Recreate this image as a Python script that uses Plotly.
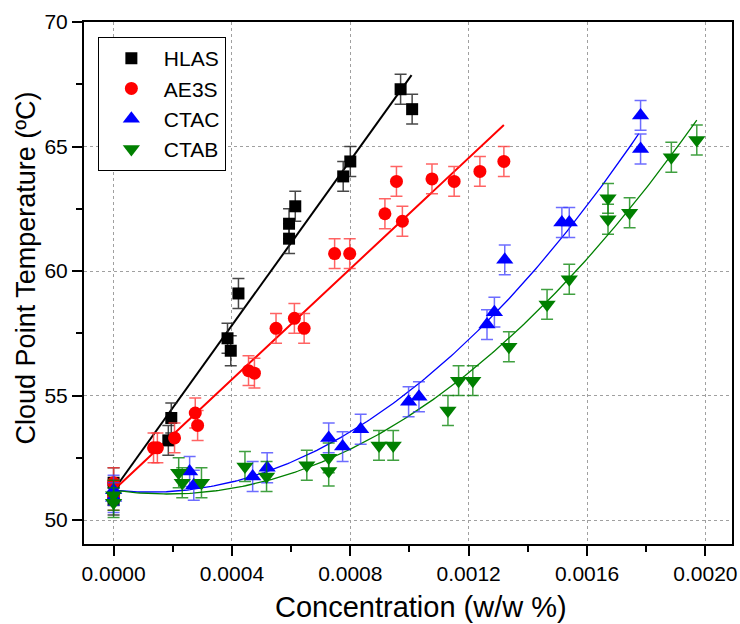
import numpy as np
import plotly.graph_objects as go

# ---- data ----
hlas_c = [0, 0, 0.000185, 0.000195, 0.000385, 0.000396, 0.000422, 0.000593, 0.000593,
          0.000614, 0.000776, 0.000800, 0.000970, 0.001009]
hlas_t = [51.5, 50.8, 53.2, 54.1, 57.3, 56.8, 59.1, 61.3, 61.9, 62.6, 63.8, 64.4, 67.3, 66.5]

ae3s_c = [0, 0, 0.000135, 0.000148, 0.000206, 0.000276, 0.000284, 0.000456, 0.000476,
          0.000549, 0.000611, 0.000644, 0.000747, 0.000798, 0.000917, 0.000956, 0.000976,
          0.001076, 0.001151, 0.001238, 0.001319]
ae3s_t = [51.5, 51.0, 52.9, 52.9, 53.3, 54.3, 53.8, 56.0, 55.9, 57.7, 58.1, 57.7, 60.7,
          60.7, 62.3, 63.6, 62.0, 63.7, 63.6, 64.0, 64.4]

ctac_c = [0, 0, 0.000257, 0.000271, 0.00047, 0.000519, 0.000727, 0.000774, 0.000835,
          0.000997, 0.001032, 0.001262, 0.001287, 0.001322, 0.001515, 0.00154, 0.001781,
          0.001781]
ctac_t = [51.2, 50.9, 51.95, 51.4, 51.75, 52.1, 53.3, 52.95, 53.65, 54.75, 54.95, 57.85,
          58.35, 60.45, 61.95, 61.95, 66.25, 64.9]

ctab_c = [0, 0, 0.00022, 0.000232, 0.000297, 0.000444, 0.000517, 0.000653, 0.000727,
          0.000727, 0.000897, 0.000945, 0.00113, 0.001166, 0.001214, 0.001336, 0.001465,
          0.00154, 0.001671, 0.001671, 0.001744, 0.001885, 0.001971]
ctab_t = [51.0, 50.7, 51.9, 51.5, 51.5, 52.15, 51.75, 52.2, 52.5, 51.97, 53.0, 53.0, 54.4,
          55.6, 55.6, 56.96, 58.66, 59.67, 62.92, 62.08, 62.34, 64.57, 65.26]

err = 0.6

# fit curves (polynomial coefficients, low order first) and their x extents
hlas_fit = [51.2, 16550]
ae3s_fit = [51.2, 11115]
ctac_fit = [51.2, -1285, 5.267e6]
ctab_fit = [51.2, -1684, 4.68e6]
hlas_fit_end = 0.001007
ae3s_fit_end = 0.001319
ctac_fit_end = 0.001775
ctab_fit_end = 0.001971

x_ticks = [0, 0.0004, 0.0008, 0.0012, 0.0016, 0.0020]

FONT = "Liberation Sans, Arial, sans-serif"

series = [
    ("HLAS", hlas_c, hlas_t, "square", 12, "black", "rgba(40,40,40,0.85)", hlas_fit, hlas_fit_end, 2),
    ("AE3S", ae3s_c, ae3s_t, "circle", 13, "red", "rgba(255,60,60,0.8)", ae3s_fit, ae3s_fit_end, 2),
    ("CTAC", ctac_c, ctac_t, "triangle-up", 15, "blue", "rgba(60,60,255,0.75)", ctac_fit, ctac_fit_end, 1.3),
    ("CTAB", ctab_c, ctab_t, "triangle-down", 15, "green", "rgba(0,128,0,0.75)", ctab_fit, ctab_fit_end, 1.3),
]

fig = go.Figure()

for name, cx, ty, sym, sz, col, ecol, coef, xend, lw in series:
    xs = np.linspace(0, xend, 200)
    ys = np.polynomial.polynomial.polyval(xs, coef)
    fig.add_trace(go.Scatter(x=xs, y=ys, mode="lines", line=dict(color=col, width=lw),
                             showlegend=False, hoverinfo="skip"))

for name, cx, ty, sym, sz, col, ecol, coef, xend, lw in series:
    fig.add_trace(go.Scatter(
        x=cx, y=ty, mode="markers", name=name,
        marker=dict(symbol=sym, size=sz, color=col, line=dict(width=0)),
        error_y=dict(type="constant", value=err, color=ecol, thickness=1.5, width=6),
    ))

axis_common = dict(
    showline=True, linecolor="black", linewidth=2, mirror=True,
    ticks="outside", ticklen=10, tickwidth=1.5, tickcolor="black",
    showgrid=True, gridcolor="#a0a0a0", griddash="3px,3px", gridwidth=1,
    zeroline=False,
    tickfont=dict(family=FONT, size=21, color="black"),
    ticklabeloverflow="allow",
)

fig.update_xaxes(
    range=[-0.0001, 0.00209], tickvals=x_ticks, tickformat=".4f",
    minor=dict(dtick=0.0002, tick0=0, ticks="outside", ticklen=6, tickwidth=1.5,
               tickcolor="black", showgrid=False),
    **axis_common,
)
fig.update_yaxes(
    range=[49.04, 70], dtick=5, tick0=50,
    minor=dict(dtick=2.5, tick0=50, ticks="outside", ticklen=6, tickwidth=1.5,
               tickcolor="black", showgrid=False),
    **axis_common,
)

# axis titles placed as annotations to match the reference offsets
fig.add_annotation(text="Concentration (w/w %)", xref="paper", yref="paper",
                   x=(424 - 84) / 653, y=(544 - 607) / 522, xanchor="center", yanchor="middle",
                   showarrow=False, font=dict(family=FONT, size=29, color="black"))
fig.add_annotation(text="Cloud Point Temperature (ºC)", xref="paper", yref="paper",
                   x=(26 - 84) / 653, y=(544 - 268) / 522, xanchor="center", yanchor="middle",
                   textangle=-90, showarrow=False,
                   font=dict(family=FONT, size=27, color="black"))

fig.update_layout(
    width=740, height=624,
    margin=dict(l=84, r=3, t=22, b=80),
    paper_bgcolor="white", plot_bgcolor="white",
    font=dict(family=FONT, color="black"),
    legend=dict(x=0.0214, y=0.9713, xanchor="left", yanchor="top",
                bordercolor="black", borderwidth=1, bgcolor="white",
                font=dict(family=FONT, size=21, color="black"),
                itemwidth=55, tracegroupgap=0),
    showlegend=True,
)

fig.write_html("out.html")
